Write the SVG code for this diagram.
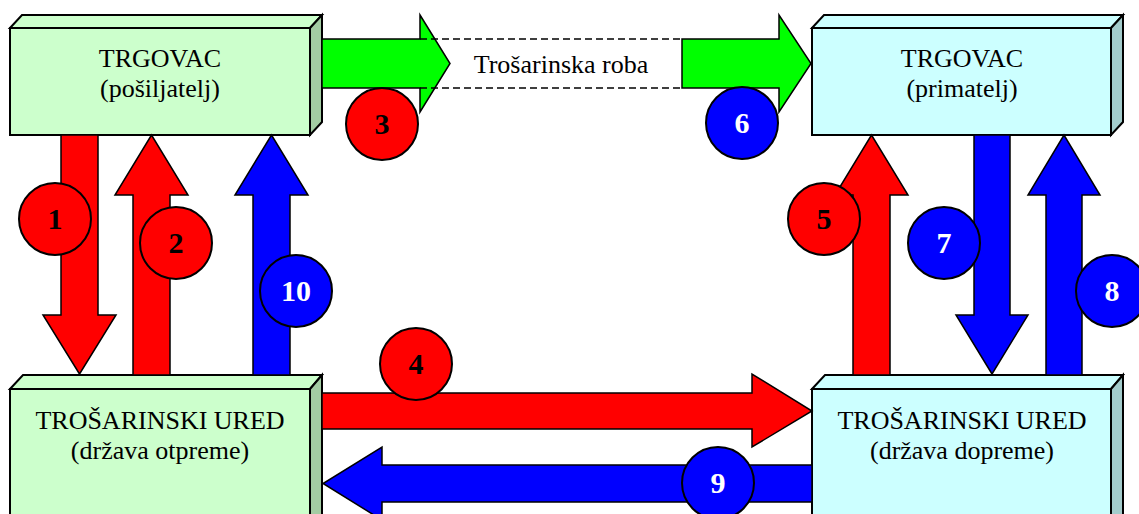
<svg xmlns="http://www.w3.org/2000/svg" width="1139" height="514" viewBox="0 0 1139 514">
<style>
.txt{font-family:"Liberation Serif","Times New Roman",serif;font-size:26px;fill:#000;text-anchor:middle}
.num{font-family:"Liberation Serif","Times New Roman",serif;font-size:30px;font-weight:bold;text-anchor:middle}
.edge{stroke:#000;stroke-width:2;stroke-linejoin:miter}
.arr{stroke:#000;stroke-width:1.5;stroke-linejoin:miter}
.g-front{fill:#CCFFCC}
.g-side{fill:#A3CCA3}
.c-front{fill:#CCFFFF}
.c-side{fill:#A3CCCC}
.red{fill:#FF0000}
.blue{fill:#0000FF}
.green{fill:#00FF00}
.dash{fill:none;stroke:#000;stroke-width:1.5;stroke-dasharray:7,4}
.circ{stroke:#000;stroke-width:2}
</style>
<rect x="0" y="0" width="1139" height="514" fill="#fff"/>

<g id="node-trgovac-posiljatelj">
  <polygon class="edge g-front" points="10,28 22,15 322,15 310,28"/>
  <polygon class="edge g-side" points="310,28 322,15 322,122 310,135"/>
  <rect class="edge g-front" x="10" y="28" width="300" height="107"/>
  <text class="txt" x="160" y="67">TRGOVAC</text>
  <text class="txt" x="160" y="97">(pošiljatelj)</text>
</g>

<g id="node-trgovac-primatelj">
  <polygon class="edge c-front" points="812,28 824,15 1123,15 1111,28"/>
  <polygon class="edge c-side" points="1111,28 1123,15 1123,122 1111,135"/>
  <rect class="edge c-front" x="812" y="28" width="299" height="107"/>
  <text class="txt" x="962" y="67">TRGOVAC</text>
  <text class="txt" x="962" y="97">(primatelj)</text>
</g>

<g id="node-ured-otpreme">
  <polygon class="edge g-front" points="10,389 23,375 322,375 310,389"/>
  <polygon class="edge g-side" points="310,389 322,375 322,520 310,530"/>
  <rect class="edge g-front" x="10" y="389" width="300" height="140"/>
  <text class="txt" x="160" y="429">TROŠARINSKI URED</text>
  <text class="txt" x="160" y="459">(država otpreme)</text>
</g>

<g id="node-ured-dopreme">
  <polygon class="edge c-front" points="812,389 825,375 1123,375 1111,389"/>
  <polygon class="edge c-side" points="1111,389 1123,375 1123,520 1111,530"/>
  <rect class="edge c-front" x="812" y="389" width="299" height="140"/>
  <text class="txt" x="962" y="429">TROŠARINSKI URED</text>
  <text class="txt" x="962" y="459">(država dopreme)</text>
</g>

<g id="connectors">
  <polygon class="arr green" points="322,39 420,39 420,15 450,63.5 420,112 420,88 322,88"/>
  <polygon class="arr green" points="682,39 779,39 779,15 811,63.5 779,112 779,88 682,88"/>
  <path class="dash" d="M420,39 H682 M420,88 H682"/>
  <text class="txt" x="561" y="73">Trošarinska roba</text>

  <polygon class="arr red" points="61,135 98,135 98,315 116,315 79.5,374 43,315 61,315"/>
  <polygon class="arr red" points="133,375 133,195 115,195 151.5,135 188,195 170,195 170,375"/>
  <polygon class="arr blue" points="253,375 253,195 235,195 271.5,135 308,195 290,195 290,375"/>

  <polygon class="arr red" points="853,375 853,195 835,195 871.5,135 908,195 890,195 890,375"/>
  <polygon class="arr blue" points="974,135 1010,135 1010,315 1028,315 992,374 956,315 974,315"/>
  <polygon class="arr blue" points="1046,375 1046,195 1028,195 1064,135 1100,195 1082,195 1082,375"/>

  <polygon class="arr red" points="322,393 752,393 752,374 812,411 752,447 752,429 322,429"/>
  <polygon class="arr blue" points="812,465 382,465 382,447 323,483.5 382,520 382,502 812,502"/>
</g>

<g id="step-numbers">
  <circle class="circ red" cx="55" cy="219" r="36"/>
  <text class="num" x="55" y="229" fill="#000">1</text>
  <circle class="circ red" cx="176" cy="243" r="36"/>
  <text class="num" x="176" y="253" fill="#000">2</text>
  <circle class="circ red" cx="382" cy="124" r="36"/>
  <text class="num" x="382" y="134" fill="#000">3</text>
  <circle class="circ red" cx="416" cy="364" r="36"/>
  <text class="num" x="416" y="374" fill="#000">4</text>
  <circle class="circ red" cx="824" cy="219" r="36"/>
  <text class="num" x="824" y="229" fill="#000">5</text>
  <circle class="circ blue" cx="742" cy="123" r="36"/>
  <text class="num" x="742" y="133" fill="#fff">6</text>
  <circle class="circ blue" cx="944" cy="243" r="36"/>
  <text class="num" x="944" y="253" fill="#fff">7</text>
  <circle class="circ blue" cx="1112" cy="291" r="36"/>
  <text class="num" x="1112" y="301" fill="#fff">8</text>
  <circle class="circ blue" cx="718" cy="483" r="36"/>
  <text class="num" x="718" y="493" fill="#fff">9</text>
  <circle class="circ blue" cx="296" cy="291" r="36"/>
  <text class="num" x="296" y="301" fill="#fff">10</text>
</g>
</svg>
